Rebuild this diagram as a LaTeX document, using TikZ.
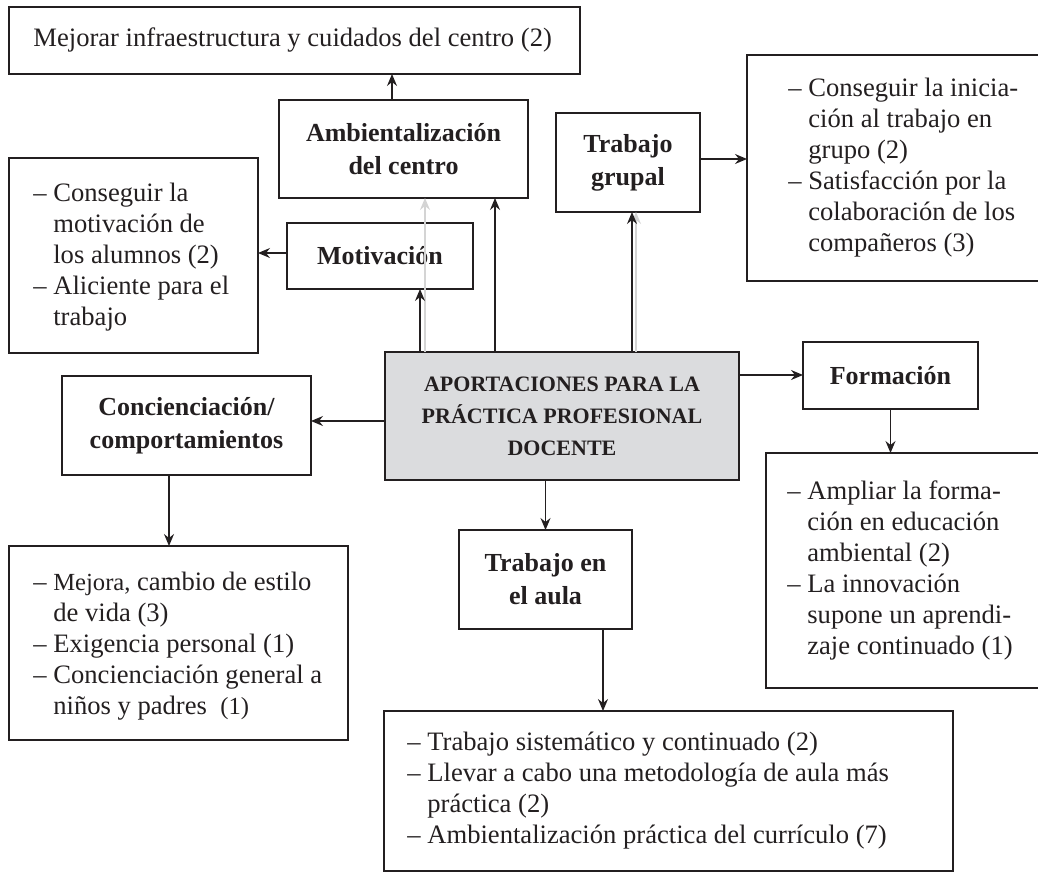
\documentclass[tikz,border=0pt]{standalone}
\usepackage{fontspec}
\setmainfont{Liberation Serif}
\usetikzlibrary{arrows.meta,calc}
\definecolor{ink}{RGB}{35,31,32}
\definecolor{boxgray}{RGB}{219,220,222}
\definecolor{ghost}{RGB}{212,212,212}
\newcommand\ind{\hphantom{– }}
\begin{document}
\begin{tikzpicture}[x=0.5pt,y=-0.5pt,
  box/.style={draw=ink, line width=0.75pt, inner sep=0pt, outer sep=0pt, text=ink},
  listtext/.style={text=ink, inner sep=0pt, anchor=west, align=left,
    font=\fontsize{13.3}{15.5}\selectfont},
  title/.style={box, font=\fontsize{13}{16.5}\selectfont\bfseries, align=center},
  arr/.style={draw=ink, line width=0.65pt, -{Stealth[length=6pt,width=5pt,inset=2pt]}},
  ghostarr/.style={arr, draw=ghost, fill=ghost, line width=0.6pt},
]
\useasboundingbox (0,0) rectangle (1038,873);
\clip (0,0) rectangle (1038,873);

% frames of the text boxes
\node[box, minimum width=285.5pt, minimum height=33.5pt] (top) at (294.5,40.5) {};
\node[box, minimum width=149pt, minimum height=113pt] (rtop) at (896,168) {};
\node[box, minimum width=124.5pt, minimum height=97.5pt] (lmot) at (133.5,255.5) {};
\node[box, minimum width=169.5pt, minimum height=97pt] (lconc) at (178.5,643) {};
\node[box, minimum width=139.5pt, minimum height=117.5pt] (rform) at (905.5,570.5) {};
\node[box, minimum width=284.5pt, minimum height=80pt] (bottom) at (668.5,791) {};

% their texts
\node[listtext] (top-t) at ($(top.west)+(24,0)$)
  {Mejorar infraestructura y cuidados del centro (2)};
\node[listtext] (rtop-t) at ($(rtop.west)+(41,0)$)
  {– Conseguir la inicia-\\
   \ind ción al trabajo en\\
   \ind grupo (2)\\
   – Satisfacción por la\\
   \ind colaboración de los\\
   \ind compañeros (3)};
\node[listtext] (lmot-t) at ($(lmot.west)+(24,2)$)
  {– Conseguir la\\
   \ind motivación de\\
   \ind los alumnos (2)\\
   – Aliciente para el\\
   \ind trabajo};
\node[listtext] (lconc-t) at ($(lconc.west)+(24,3)$)
  {– {\fontsize{12.3}{15.5}\selectfont Mejora,} cambio de estilo\\
   \ind de vida (3)\\
   – Exigencia personal (1)\\
   – Concienciación general a\\
   \ind niños y padres~ {\fontsize{12.3}{15.5}\selectfont (1)}};
\node[listtext] (rform-t) at ($(rform.west)+(21,0)$)
  {– Ampliar la forma-\\
   \ind ción en educación\\
   \ind ambiental (2)\\
   – La innovación\\
   \ind supone un aprendi-\\
   \ind zaje continuado (1)};
\node[listtext] (bottom-t) at ($(bottom.west)+(23,0)$)
  {– Trabajo sistemático y continuado (2)\\
   – Llevar a cabo una metodología de aula más\\
   \ind práctica (2)\\
   – Ambientalización práctica del currículo (7)};

% titled boxes
\node[title, minimum width=124.5pt, minimum height=49pt] (amb) at (403.5,149)
  {Ambientalización\\del centro};
\node[title, minimum width=72pt, minimum height=49.5pt] (grupal) at (628,162.5)
  {Trabajo\\grupal};
\node[title, minimum width=93pt, minimum height=33pt] (motiv) at (380,256)
  {Motivación};
\node[box, fill=boxgray, align=center, font=\fontsize{11}{16}\selectfont\bfseries,
  minimum width=177pt, minimum height=64pt] (central) at (562,416)
  {APORTACIONES PARA LA\\PRÁCTICA PROFESIONAL\\DOCENTE};
\node[title, minimum width=124.5pt, minimum height=49.5pt] (conc) at (186.5,425.5)
  {Concienciación/\\comportamientos};
\node[title, minimum width=87.5pt, minimum height=33.5pt] (form) at (890.5,375.5)
  {Formación};
\node[title, minimum width=86.5pt, minimum height=49.5pt] (aula) at (545.5,579.5)
  {Trabajo en\\el aula};

% helper coordinates
\coordinate (xA) at (392,0);
\coordinate (xM) at (420,0);
\coordinate (xG1) at (425,0);
\coordinate (xB) at (495,0);
\coordinate (xT) at (632,0);
\coordinate (xG2) at (636,0);
\coordinate (xCd) at (169,0);
\coordinate (xAu) at (603,0);
\coordinate (yC) at (0,421);
\coordinate (yF) at (0,375);
\coordinate (yGr) at (0,159);
\coordinate (yMo) at (0,253);

% connectors
\draw[arr] (amb.north -| xA) -- (top.south -| xA);
\draw[ghostarr] (central.north -| xG1) -- (amb.south -| xG1);
\draw[arr] (central.north -| xM) -- (motiv.south -| xM);
\draw[arr] (central.north -| xB) -- (amb.south -| xB);
\draw[ghostarr] (central.north -| xG2) -- (grupal.south -| xG2);
\draw[arr] (central.north -| xT) -- (grupal.south -| xT);
\draw[arr] (grupal.east |- yGr) -- (rtop.west |- yGr);
\draw[arr] (motiv.west |- yMo) -- (lmot.east |- yMo);
\draw[arr] (central.west |- yC) -- (conc.east |- yC);
\draw[arr] (conc.south -| xCd) -- (lconc.north -| xCd);
\draw[arr] (central.east |- yF) -- (form.west |- yF);
\draw[arr] (form.south) -- (rform.north -| form.south);
\draw[arr] (central.south -| aula.north) -- (aula.north);
\draw[arr] (aula.south -| xAu) -- (bottom.north -| xAu);
\end{tikzpicture}
\end{document}
